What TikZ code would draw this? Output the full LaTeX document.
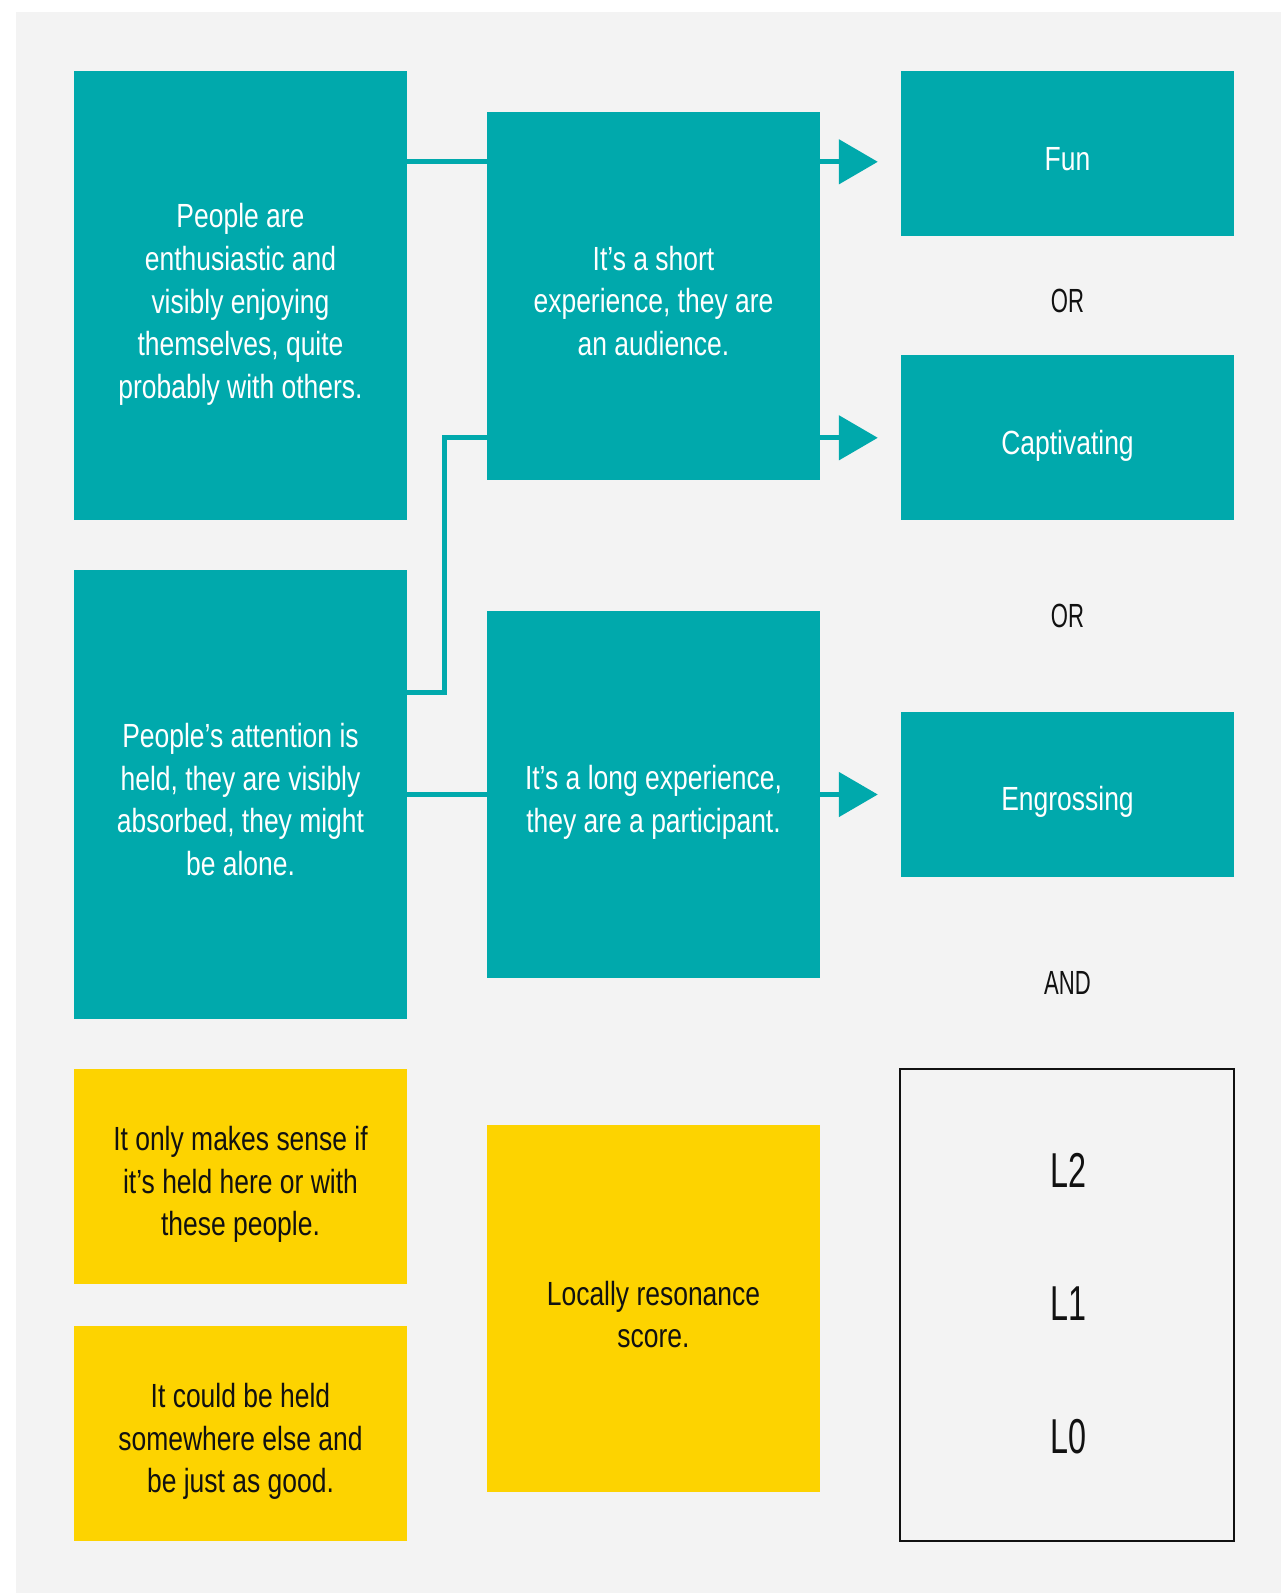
\documentclass[tikz,border=0pt]{standalone}
\usepackage{fontspec}
\setmainfont{Liberation Sans}[FakeStretch=0.79]
\newfontfamily\narrowfont{Liberation Sans}[FakeStretch=0.66]
\usetikzlibrary{arrows.meta,calc}

\definecolor{boxteal}{HTML}{00A9AC}
\definecolor{boxyellow}{HTML}{FDD300}
\definecolor{panelgray}{HTML}{F3F3F3}
\definecolor{inkdark}{HTML}{111111}

\newcommand{\bodyfont}{\fontsize{33.5}{42.7}\selectfont}
\newcommand{\levelfont}{\narrowfont\fontsize{49}{56}\selectfont}

\tikzset{
  basebox/.style={rectangle, inner sep=0pt, minimum width=333pt},
  tealbox/.style={basebox, fill=boxteal},
  yellowbox/.style={basebox, fill=boxyellow},
  boxtext/.style={inner sep=0pt, align=center, font=\bodyfont},
  lighttext/.style={boxtext, text=white},
  darktext/.style={boxtext, text=inkdark},
  joinword/.style={inner sep=0pt, font=\narrowfont\bodyfont, text=inkdark},
  levelword/.style={inner sep=0pt, font=\levelfont, text=inkdark},
  conn/.style={draw=boxteal, line width=5pt},
  arrowconn/.style={conn, -{Triangle[length=39pt,width=44pt]}, shorten >=23pt},
}

\begin{document}
\begin{tikzpicture}[x=1pt,y=-1pt]
  % page and panel
  \fill[white] (0,0) rectangle (1281,1593);
  \fill[panelgray] (16,12) rectangle (1281,1593);
  \useasboundingbox (0,0) rectangle (1281,1593);

  % left column
  \node[tealbox, minimum height=449pt] (A) at (240.5,295.5) {};
  \node[lighttext] (tA) at ($(A.center)+(0,9)$)
    {People are\\ enthusiastic and\\ visibly enjoying\\ themselves, quite\\ probably with others.};
  \node[tealbox, minimum height=449pt] (B) at (240.5,794.5) {};
  \node[lighttext] (tB) at ($(B.center)+(0,5)$)
    {People’s attention is\\ held, they are visibly\\ absorbed, they might\\ be alone.};
  \node[yellowbox, minimum height=215pt] (Y1) at (240.5,1176.5) {};
  \node[darktext] (tY1) at ($(Y1.center)+(0,8)$)
    {It only makes sense if\\ it’s held here or with\\ these people.};
  \node[yellowbox, minimum height=215pt] (Y2) at (240.5,1433.5) {};
  \node[darktext] (tY2) at ($(Y2.center)+(0,8)$)
    {It could be held\\ somewhere else and\\ be just as good.};

  % middle column
  \node[tealbox, minimum height=368pt] (M1) at (653.5,296) {};
  \node[lighttext] (tM1) at ($(M1.center)+(0,5)$)
    {It’s a short\\ experience, they are\\ an audience.};
  \node[tealbox, minimum height=367pt] (M2) at (653.5,794.5) {};
  \node[lighttext] (tM2) at ($(M2.center)+(0,8)$)
    {It’s a long experience,\\ they are a participant.};
  \node[yellowbox, minimum height=367pt] (MY) at (653.5,1308.5) {};
  \node[darktext] (tMY) at ($(MY.center)+(0,6)$)
    {Locally resonance\\ score.};

  % right column
  \node[tealbox, minimum height=165pt] (R1) at (1067.5,153.5) {};
  \node[lighttext] (tR1) at ($(R1.center)+(0,6)$) {Fun};
  \node[tealbox, minimum height=165pt] (R2) at (1067.5,437.5) {};
  \node[lighttext] (tR2) at ($(R2.center)+(0,8)$) {Captivating};
  \node[tealbox, minimum height=165pt] (R3) at (1067.5,794.5) {};
  \node[lighttext] (tR3) at ($(R3.center)+(0,7)$) {Engrossing};

  \node[joinword] (or1) at (1067.5,301) {OR};
  \node[joinword] (or2) at (1067.5,616) {OR};
  \node[joinword] (and1) at (1067.5,983) {AND};

  % level box
  \node[rectangle, draw=inkdark, line width=2.5pt, minimum width=334pt, minimum height=472pt, inner sep=0pt] (L) at (1067,1305) {};
  \node[levelword] (L2) at (1068,1170) {L2};
  \node[levelword] (L1) at (1068,1304) {L1};
  \node[levelword] (L0) at (1068,1437) {L0};

  % connectors into the short-experience box
  \coordinate (a1) at ($(A.north east)+(0,91)$);
  \draw[conn] (a1) -- (a1 -| M1.west);
  \coordinate (b1) at ($(B.north east)+(0,123)$);
  \coordinate (m1in) at ($(M1.north west)+(0,326)$);
  \draw[conn] (b1) -- ++(37,0) |- (m1in);
  % connector into the long-experience box
  \draw[conn] (B.east) -- (M2.west);

  % arrows to the outcomes
  \coordinate (m1a) at ($(M1.north east)+(0,50)$);
  \draw[arrowconn] (m1a) -- (m1a -| R1.west);
  \coordinate (m1b) at ($(M1.north east)+(0,326)$);
  \draw[arrowconn] (m1b) -- (m1b -| R2.west);
  \draw[arrowconn] (M2.east) -- (R3.west);
\end{tikzpicture}
\end{document}
